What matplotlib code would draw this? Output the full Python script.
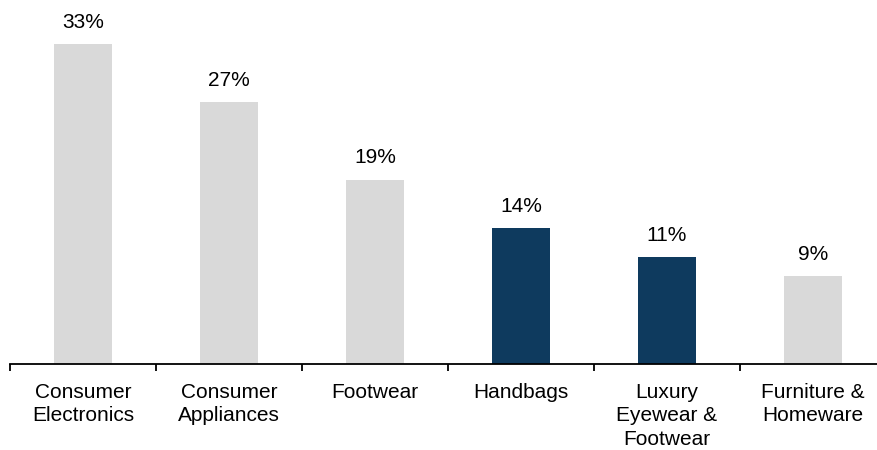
import matplotlib.pyplot as plt
import numpy as np

plt.rcParams['font.family'] = ['Liberation Sans', 'DejaVu Sans']

categories = ['Consumer\nElectronics', 'Consumer\nAppliances', 'Footwear',
              'Handbags', 'Luxury\nEyewear &\nFootwear', 'Furniture &\nHomeware']
shares = [33, 27, 19, 14, 11, 9]
highlight = [False, False, False, True, True, False]

grey = '#D9D9D9'
navy = '#0E3A5E'

fig = plt.figure(figsize=(8.78, 4.5), dpi=100)
ax = fig.add_axes([10 / 878, 86.5 / 450, 1 - 10 / 878, 363.5 / 450])

x = np.arange(len(categories))
colors = [navy if h else grey for h in highlight]
bars = ax.bar(x, shares, width=0.4, color=colors)

for b, v in zip(bars, shares):
    ax.annotate(f'{v}%', (b.get_x() + b.get_width() / 2, v),
                xytext=(0, 9), textcoords='offset points',
                ha='center', va='bottom', fontsize=15)

ax.set_xlim(-0.5, 5.445)
ax.set_ylim(0, 37.6)

for s in ['top', 'right', 'left']:
    ax.spines[s].set_visible(False)
ax.spines['bottom'].set_linewidth(1.3)
ax.set_yticks([])

ax.set_xticks(x)
ax.set_xticklabels(categories, fontsize=15, va='top', linespacing=1.3)
ax.tick_params(axis='x', which='major', length=0, pad=14)
ax.set_xticks(np.arange(-0.5, 5.5, 1), minor=True)
ax.tick_params(axis='x', which='minor', length=5, width=1.3, direction='out')

fig.savefig('out.png', dpi=100)
